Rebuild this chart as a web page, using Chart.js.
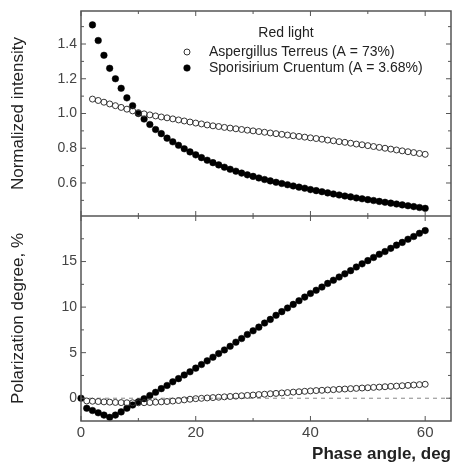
<!DOCTYPE html>
<html>
<head>
<meta charset="utf-8">
<script src="https://cdn.jsdelivr.net/npm/chart.js@4.4.1/dist/chart.umd.min.js"></script>
<style>
  body { margin: 0; background: #fff; }
  #wrap { position: relative; width: 452px; height: 470px; }
  canvas { position: absolute; left: 0; }
</style>
</head>
<body>
<div id="wrap">
  <canvas id="top" width="452" height="216" style="top:0"></canvas>
  <canvas id="bottom" width="452" height="254" style="top:216px"></canvas>
</div>
<script>
// phase angles (deg)
const anglesTop = [2, 3, 4, 5, 6, 7, 8, 9, 10, 11, 12, 13, 14, 15, 16, 17, 18, 19, 20, 21, 22, 23, 24, 25, 26, 27, 28, 29, 30, 31, 32, 33, 34, 35, 36, 37, 38, 39, 40, 41, 42, 43, 44, 45, 46, 47, 48, 49, 50, 51, 52, 53, 54, 55, 56, 57, 58, 59, 60];
const anglesOpenPol = [1, 2, 3, 4, 5, 6, 7, 8, 9, 10, 11, 12, 13, 14, 15, 16, 17, 18, 19, 20, 21, 22, 23, 24, 25, 26, 27, 28, 29, 30, 31, 32, 33, 34, 35, 36, 37, 38, 39, 40, 41, 42, 43, 44, 45, 46, 47, 48, 49, 50, 51, 52, 53, 54, 55, 56, 57, 58, 59, 60];
const anglesFilledPol = [0, 1, 2, 3, 4, 5, 6, 7, 8, 9, 10, 11, 12, 13, 14, 15, 16, 17, 18, 19, 20, 21, 22, 23, 24, 25, 26, 27, 28, 29, 30, 31, 32, 33, 34, 35, 36, 37, 38, 39, 40, 41, 42, 43, 44, 45, 46, 47, 48, 49, 50, 51, 52, 53, 54, 55, 56, 57, 58, 59, 60];

// normalized intensity
const aspergillusIntensity = [1.083, 1.075, 1.065, 1.055, 1.045, 1.035, 1.025, 1.015, 1.005, 0.998, 0.992, 0.986, 0.98, 0.975, 0.969, 0.963, 0.957, 0.951, 0.945, 0.94, 0.934, 0.929, 0.925, 0.92, 0.916, 0.912, 0.908, 0.904, 0.9, 0.896, 0.892, 0.888, 0.884, 0.88, 0.876, 0.872, 0.868, 0.864, 0.86, 0.856, 0.852, 0.847, 0.843, 0.838, 0.834, 0.829, 0.824, 0.82, 0.815, 0.81, 0.805, 0.8, 0.795, 0.79, 0.785, 0.78, 0.775, 0.77, 0.765];
const sporisiriumIntensity = [1.51, 1.42, 1.335, 1.26, 1.2, 1.145, 1.09, 1.045, 1.0, 0.968, 0.937, 0.908, 0.884, 0.858, 0.837, 0.817, 0.797, 0.779, 0.762, 0.746, 0.731, 0.717, 0.704, 0.691, 0.679, 0.668, 0.657, 0.647, 0.638, 0.629, 0.62, 0.612, 0.604, 0.597, 0.59, 0.583, 0.576, 0.57, 0.562, 0.556, 0.55, 0.543, 0.537, 0.531, 0.525, 0.52, 0.514, 0.509, 0.504, 0.499, 0.494, 0.489, 0.484, 0.479, 0.474, 0.469, 0.464, 0.459, 0.454];

// polarization degree, %
const aspergillusPol = [-0.3, -0.33, -0.36, -0.4, -0.43, -0.46, -0.48, -0.5, -0.5, -0.5, -0.49, -0.47, -0.44, -0.4, -0.36, -0.31, -0.25, -0.18, -0.11, -0.05, -0.01, 0.03, 0.07, 0.11, 0.15, 0.19, 0.23, 0.27, 0.31, 0.35, 0.4, 0.44, 0.49, 0.53, 0.58, 0.62, 0.67, 0.71, 0.76, 0.8, 0.84, 0.87, 0.91, 0.94, 0.98, 1.01, 1.05, 1.08, 1.12, 1.15, 1.19, 1.22, 1.26, 1.3, 1.33, 1.37, 1.41, 1.45, 1.49, 1.53];
const sporisiriumPol = [0, -1.1, -1.35, -1.6, -1.85, -2.1, -1.85, -1.5, -1.1, -0.75, -0.4, -0.05, 0.3, 0.65, 1.05, 1.4, 1.8, 2.15, 2.55, 2.9, 3.3, 3.7, 4.1, 4.5, 4.9, 5.3, 5.7, 6.15, 6.55, 7.0, 7.4, 7.8, 8.25, 8.65, 9.1, 9.5, 9.9, 10.3, 10.7, 11.1, 11.5, 11.85, 12.2, 12.6, 12.95, 13.3, 13.65, 14.0, 14.4, 14.75, 15.1, 15.45, 15.8, 16.1, 16.45, 16.8, 17.1, 17.45, 17.75, 18.1, 18.4];

// ticks
const xTicks = [0, 20, 40, 60];
const xMinor = [10, 30, 50];
const topYTicks = [0.6, 0.8, 1.0, 1.2, 1.4];
const topYMinor = [0.5, 0.7, 0.9, 1.1, 1.3, 1.5];
const botYTicks = [0, 5, 10, 15];
const botYMinor = [2.5, 7.5, 12.5, 17.5];

const labelA = "Aspergillus Terreus (A = 73%)";
const labelS = "Sporisirium Cruentum (A = 3.68%)";

const FONT = "'Liberation Sans', Arial, Helvetica, sans-serif";
Chart.defaults.font.family = FONT;
Chart.defaults.color = "#444";

function pts(xs, ys) {
  return xs.map((x, i) => ({ x: x, y: ys[i] }));
}

// no extra room for half-labels, the plot area is set by hand
function noPad(s) {
  s.paddingTop = 0;
  s.paddingBottom = 0;
  s.paddingLeft = 0;
  s.paddingRight = 0;
}

// frame around the plot with ticks pointing inwards
const framePlugin = {
  id: "frame",
  afterDatasetsDraw(chart, args, opts) {
    const { ctx, chartArea: a, scales } = chart;
    const line = (x1, y1, x2, y2) => {
      ctx.beginPath();
      ctx.moveTo(x1, y1);
      ctx.lineTo(x2, y2);
      ctx.stroke();
    };
    ctx.save();
    ctx.strokeStyle = "#555";
    ctx.lineWidth = 1;
    opts.xMajor.forEach((v) => {
      const p = scales.x.getPixelForValue(v);
      line(p, a.top, p, a.top + 5);
      line(p, a.bottom, p, a.bottom - 5);
    });
    opts.xMinor.forEach((v) => {
      const p = scales.x.getPixelForValue(v);
      line(p, a.top, p, a.top + 3);
      line(p, a.bottom, p, a.bottom - 3);
    });
    opts.yMajor.forEach((v) => {
      const p = scales.y.getPixelForValue(v);
      line(a.left, p, a.left + 5, p);
      line(a.right, p, a.right - 5, p);
    });
    opts.yMinor.forEach((v) => {
      const p = scales.y.getPixelForValue(v);
      line(a.left, p, a.left + 3, p);
      line(a.right, p, a.right - 3, p);
    });
    ctx.lineWidth = 1.5;
    ctx.strokeRect(a.left, a.top, a.right - a.left, a.bottom - a.top);
    ctx.restore();
  },
};

// legend box drawn inside the top plot
const notePlugin = {
  id: "note",
  afterDraw(chart, args, opts) {
    if (!opts.show) return;
    const ctx = chart.ctx;
    ctx.save();
    ctx.font = "14px " + FONT;
    ctx.fillStyle = "#222";
    ctx.textBaseline = "middle";
    ctx.textAlign = "center";
    ctx.fillText(opts.title, opts.titleX, opts.titleY);
    ctx.textAlign = "left";
    chart.data.datasets.forEach((ds, i) => {
      const y = opts.rowY[i];
      ctx.beginPath();
      ctx.arc(opts.markX, y, ds.pointRadius, 0, Math.PI * 2);
      if (ds.pointBackgroundColor !== "transparent") {
        ctx.fillStyle = ds.pointBackgroundColor;
        ctx.fill();
      }
      ctx.lineWidth = ds.pointBorderWidth;
      ctx.strokeStyle = ds.pointBorderColor;
      ctx.stroke();
      ctx.fillStyle = "#222";
      ctx.fillText(ds.label, opts.textX, y);
    });
    ctx.restore();
  },
};

const openStyle = {
  pointRadius: 3,
  pointBorderWidth: 1,
  pointBorderColor: "#333",
  pointBackgroundColor: "transparent",
  showLine: false,
};
const filledStyle = {
  pointRadius: 3.3,
  pointBorderWidth: 0.5,
  pointBorderColor: "#000",
  pointBackgroundColor: "#000",
  showLine: false,
};

const xScale = (show) => ({
  type: "linear",
  min: 0,
  max: 64.5,
  display: show,
  grid: { display: false, drawTicks: false },
  border: { display: false },
  afterBuildTicks: (s) => { s.ticks = xTicks.map((v) => ({ value: v })); },
  afterFit: (s) => { s.height = show ? 49 : 0; noPad(s); },
  ticks: { padding: 3, font: { size: 15 }, color: "#444", maxRotation: 0 },
  title: {
    display: show,
    text: "Phase angle, deg",
    align: "end",
    color: "#222",
    font: { size: 17, weight: "bold" },
    padding: { top: 0, bottom: 5 },
  },
});

const yScale = (min, max, ticks, digits, title) => ({
  type: "linear",
  min: min,
  max: max,
  grid: { display: false, drawTicks: false },
  border: { display: false },
  afterBuildTicks: (s) => { s.ticks = ticks.map((v) => ({ value: v })); },
  afterFit: (s) => { s.width = 81; noPad(s); },
  ticks: {
    padding: 4,
    font: { size: 14 },
    color: "#444",
    callback: (v) => Number(v).toFixed(digits),
  },
  title: {
    display: true,
    text: title,
    color: "#222",
    font: { size: 17 },
    padding: { top: 8, bottom: 0 },
  },
});

new Chart(document.getElementById("top"), {
  type: "scatter",
  data: {
    datasets: [
      Object.assign({ label: labelA, data: pts(anglesTop, aspergillusIntensity), order: 1 }, openStyle),
      Object.assign({ label: labelS, data: pts(anglesTop, sporisiriumIntensity), order: 2 }, filledStyle),
    ],
  },
  options: {
    responsive: false,
    animation: false,
    devicePixelRatio: 1,
    layout: { autoPadding: false, padding: { top: 11, right: 1, left: 0, bottom: 0 } },
    scales: {
      x: xScale(false),
      y: yScale(0.41, 1.59, topYTicks, 1, "Normalized intensity"),
    },
    plugins: {
      legend: { display: false },
      tooltip: { enabled: false },
      frame: { xMajor: xTicks, xMinor: xMinor, yMajor: topYTicks, yMinor: topYMinor },
      note: {
        show: true,
        title: "Red light",
        titleX: 286,
        titleY: 33,
        markX: 187,
        textX: 209,
        rowY: [52, 68],
      },
    },
  },
  plugins: [framePlugin, notePlugin],
});

new Chart(document.getElementById("bottom"), {
  type: "scatter",
  data: {
    datasets: [
      Object.assign({ label: labelA, data: pts(anglesOpenPol, aspergillusPol), order: 1 }, openStyle),
      Object.assign({ label: labelS, data: pts(anglesFilledPol, sporisiriumPol), order: 2, clip: false }, filledStyle),
      {
        label: "zero",
        type: "line",
        data: [{ x: 0, y: 0 }, { x: 64.5, y: 0 }],
        borderColor: "#888",
        borderWidth: 1,
        borderDash: [4, 4],
        pointRadius: 0,
        order: 3,
      },
    ],
  },
  options: {
    responsive: false,
    animation: false,
    devicePixelRatio: 1,
    layout: { autoPadding: false, padding: { top: 0, right: 1, left: 0, bottom: 0 } },
    scales: {
      x: xScale(true),
      y: yScale(-2.5, 20, botYTicks, 0, "Polarization degree, %"),
    },
    plugins: {
      legend: { display: false },
      tooltip: { enabled: false },
      frame: { xMajor: xTicks, xMinor: xMinor, yMajor: botYTicks, yMinor: botYMinor },
      note: { show: false },
    },
  },
  plugins: [framePlugin, notePlugin],
});
</script>
</body>
</html>
